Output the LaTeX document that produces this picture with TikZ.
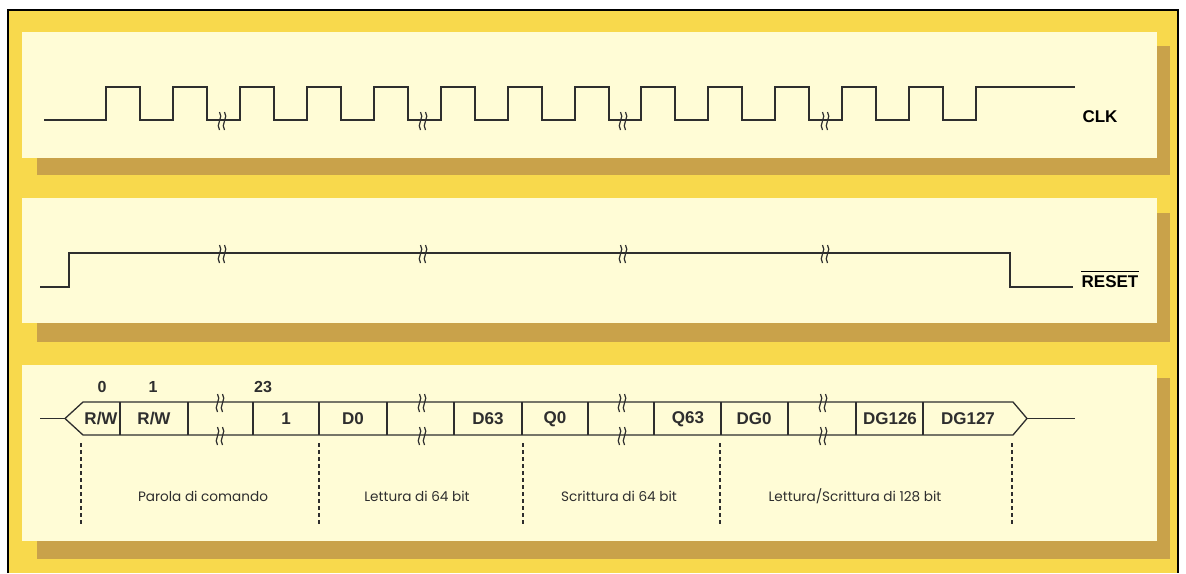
\documentclass[tikz,border=0pt]{standalone}
\usepackage{fontspec}
\setsansfont{Liberation Sans}
\newfontfamily\labfont{Poppins}
\definecolor{outery}{HTML}{F8D94C}
\definecolor{creamy}{HTML}{FFFCD6}
\definecolor{shady}{HTML}{C9A24A}
\definecolor{ink}{HTML}{2E2E2E}
\begin{document}
\begin{tikzpicture}[x=1pt,y=-1pt,
  sig/.style={draw=ink,line width=1.3pt,line join=miter},
  brk/.pic={\draw[ink,line width=1.2pt] (-2.5,-9) .. controls (2,-4) and (-7,4) .. (-2.5,9);
            \draw[ink,line width=1.2pt] (2.5,-9) .. controls (7,-4) and (-2,4) .. (2.5,9);},
  sigl/.style={font=\sffamily\bfseries\fontsize{17}{17}\selectfont,text=black,inner sep=0pt},
  cell/.style={font=\sffamily\bfseries\fontsize{17}{17}\selectfont,text=ink,inner sep=0pt},
  num/.style={font=\sffamily\bfseries\fontsize{16}{16}\selectfont,text=ink,inner sep=0pt},
  lab/.style={font=\labfont\fontsize{13.6}{14}\selectfont,text=ink,inner sep=0pt},
  guide/.style={draw=ink,line width=1.1pt,dash pattern=on 4pt off 3pt}]
\useasboundingbox (0,0) rectangle (1186,573);
% frame
\fill[white] (0,0) rectangle (1186,573);
\fill[outery] (8,10) rectangle (1178,573);
\draw[black,line width=2pt] (8,573) -- (8,10) -- (1178,10) -- (1178,573);
% panels
\foreach \ta/\tb/\sa/\sb in {32/158/46/175, 198/323/213/342, 365/541/378/559}{
  \fill[shady] (37,\sa) rectangle (1170,\sb);
  \fill[creamy] (22,\ta) rectangle (1157,\tb);
}
% CLK
\draw[sig] (44,120) foreach \r in {106,173,240,307,374,441,508,575,641,708,775,842,909}
  { -- (\r,120) -- (\r,87) -- (\r+34,87) -- (\r+34,120) } -- (976,120) -- (976,87) -- (1075,87);
\foreach \b in {222,423,623,825} \pic at (\b,121) {brk};
\node[sigl] (clk) at (1100,117) {CLK};
% RESET
\draw[sig] (40,287) -- (69,287) -- (69,253) -- (1010,253) -- (1010,287) -- (1073,287);
\foreach \b in {222,423,623,825} \pic at (\b,254) {brk};
\node[sigl] (rst) at (1110,282) {RESET};
\draw[black,line width=1.3pt] ([yshift=4pt]rst.north west) -- ([yshift=4pt]rst.north east);
% bus
\coordinate (busin) at (40,418.5);
\coordinate (busl) at (65,418.5);
\coordinate (busr) at (1027,418.5);
\coordinate (busout) at (1075,418.5);
\draw[sig] (busin) -- (busl);
\draw[sig] (busl) -- (83,402) -- (1013,402) -- (busr) -- (1013,435) -- (83,435) -- cycle;
\draw[sig] (busr) -- (busout);
\foreach \d in {120,188,253,319,387,454,522,588,654,721,788,856,923}
  \draw[sig] (\d,402) -- (\d,435);
\foreach \b in {220,422,622,823} {\pic at (\b,403) {brk}; \pic at (\b,436) {brk};}
\node[num] (n0) at (102,387) {0};
\node[num] (n1) at (153,387) {1};
\node[num] (n23) at (263,387) {23};
\node[cell] (c1) at (101,419) {R/W};
\node[cell] (c2) at (154,419) {R/W};
\node[cell] (c3) at (286,419) {1};
\node[cell] (c4) at (353,419) {D0};
\node[cell] (c5) at (488,419) {D63};
\node[cell] (c6) at (555,419) {Q0};
\node[cell] (c7) at (688,419) {Q63};
\node[cell] (c8) at (754,419) {DG0};
\node[cell] (c9) at (890,419) {DG126};
\node[cell] (c10) at (968,419) {DG127};
% guides
\foreach \g in {81,319,523,720,1012}
  \draw[guide] (\g,443) -- (\g,526);
\node[lab] (l1) at (203,496) {Parola di comando};
\node[lab] (l2) at (417,496) {Lettura di 64 bit};
\node[lab] (l3) at (619,496) {Scrittura di 64 bit};
\node[lab] (l4) at (855,496) {Lettura/Scrittura di 128 bit};
\end{tikzpicture}
\end{document}
